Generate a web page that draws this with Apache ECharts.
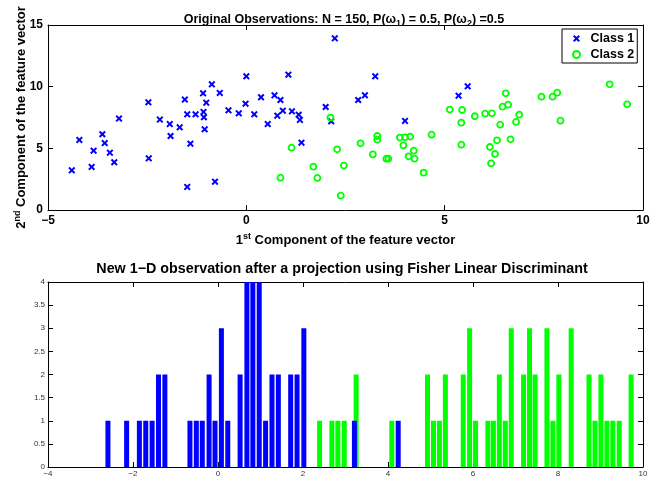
<!DOCTYPE html>
<html><head><meta charset="utf-8">
<script src="https://cdn.jsdelivr.net/npm/echarts@6/dist/echarts.min.js"></script>
<style>html,body{margin:0;padding:0;background:#fff}#c{width:652px;height:487px}</style>
</head><body><div id="c"></div>
<script>
// ---- Scatter data ----
const class1X = [-4.40,-4.21,-3.90,-3.85,-3.63,-3.57,-3.44,-3.33,-3.21,-2.47,-2.46,-2.18,-1.93,-1.91,-1.68,-1.55,-1.49,-1.49,-1.41,-1.28,-1.09,-1.08,-1.07,-1.01,-1.05,-0.87,-0.67,-0.79,-0.45,-0.19,-0.02,0.00,0.20,0.37,0.54,0.71,0.78,0.86,0.92,1.06,1.15,1.32,1.35,1.39,2.00,2.14,2.23,2.82,2.99,3.25,4.00,5.35,5.58];
const class1Y = [3.22,5.68,3.49,4.81,6.14,5.43,4.65,3.87,7.41,8.73,4.19,7.33,6.97,6.00,6.70,8.95,7.76,1.87,5.38,7.76,9.46,7.95,7.52,8.70,6.54,10.19,9.49,2.30,8.08,7.84,8.62,10.84,7.76,9.14,6.97,9.30,7.65,8.92,8.05,10.97,8.00,7.73,7.30,5.46,8.35,7.19,13.92,8.92,9.30,10.84,7.22,9.27,10.03];
const class2X = [1.14,0.86,1.69,1.79,2.12,2.29,2.46,2.38,2.88,3.19,3.30,3.30,3.53,3.58,3.87,4.00,4.13,3.96,4.09,4.22,4.24,4.47,4.67,5.13,5.44,5.42,5.42,5.76,6.02,6.19,6.14,6.27,6.17,6.32,6.40,6.46,6.54,6.60,6.66,6.80,6.88,7.44,7.72,7.84,7.92,9.16,9.60];
const class2Y = [5.05,2.62,3.51,2.60,7.49,4.92,3.60,1.16,5.41,4.51,6.00,5.70,4.16,4.16,5.87,5.89,5.95,5.24,4.35,4.81,4.16,3.03,6.11,8.14,8.11,7.08,5.30,7.60,7.81,7.84,5.11,4.54,3.78,5.65,6.92,8.38,9.46,8.54,5.73,7.14,7.73,9.19,9.19,9.51,7.24,10.19,8.57];

// ---- Histogram data (bin centres and counts) ----
const blueBinX = [-2.59,-2.15,-1.85,-1.70,-1.55,-1.40,-1.25,-0.66,-0.51,-0.37,-0.21,-0.07,0.08,0.23,0.52,0.68,0.82,0.97,1.12,1.27,1.42,1.71,1.86,2.02,3.21,4.24];
const blueCounts = [1,1,1,1,1,2,2,1,1,1,2,1,3,1,2,4,4,4,1,2,2,2,2,3,1,1];
const greenBinX = [2.39,2.68,2.82,2.97,3.25,4.09,4.93,5.07,5.21,5.35,5.77,5.92,6.06,6.35,6.48,6.62,6.76,6.90,7.19,7.33,7.46,7.74,7.88,8.02,8.31,8.73,8.87,9.01,9.15,9.29,9.44,9.72];
const greenCounts = [1,1,1,1,2,1,2,1,1,2,2,3,1,1,1,2,1,3,2,3,2,3,1,2,3,2,1,2,1,1,1,2];

// ---- Axis ticks ----
const scatterXTicks = {min:-5, max:10, interval:5};
const scatterYTicks = {min:0, max:15, interval:5};
const histXTicks = {min:-4, max:10, interval:2};
const histYTicks = {min:0, max:4, interval:0.5};

const F = '"Liberation Sans", Arial, Helvetica, sans-serif';
const minus = v => String(v).replace('-', '\u2212');
const zip = (a, b) => a.map((v, i) => [v, b[i]]);

const line = {show:true, onZero:false, lineStyle:{color:'#000', width:1}};
const tickIn = len => ({show:true, inside:true, length:len, lineStyle:{color:'#000', width:1}});

function axisPair(kind, grid, ticks, labelStyle, extraMain) {
  const main = Object.assign({
    type:'value', gridIndex:grid, min:ticks.min, max:ticks.max, interval:ticks.interval,
    position: kind === 'x' ? 'bottom' : 'left',
    axisLine: line, axisTick: tickIn(5), splitLine:{show:false},
    axisLabel: Object.assign({formatter: minus}, labelStyle)
  }, extraMain || {});
  const sec = {
    type:'value', gridIndex:grid, min:ticks.min, max:ticks.max, interval:ticks.interval,
    position: kind === 'x' ? 'top' : 'right',
    axisLine: line, axisTick: tickIn(5), splitLine:{show:false}, axisLabel:{show:false}
  };
  return [main, sec];
}

const bigLabel = {color:'#000', fontWeight:'bold', fontSize:12, fontFamily:F, margin:5};
const smallLabel = {color:'#333', fontSize:8, fontFamily:F, margin:3};

const nameStyle = {
  color:'#000', fontWeight:'bold', fontSize:13, fontFamily:F, lineHeight:16,
  rich:{sup:{fontSize:9, fontWeight:'bold', verticalAlign:'top', lineHeight:9, color:'#000'}}
};

const xs = axisPair('x', 0, scatterXTicks, bigLabel, {
  name:'1{sup|st} Component of the feature vector', nameLocation:'middle', nameGap:22,
  nameMoveOverlap:false, nameTextStyle:nameStyle
});
const ys = axisPair('y', 0, scatterYTicks, bigLabel, {
  name:'2{sup|nd} Component of the feature vector', nameLocation:'middle', nameGap:19,
  nameMoveOverlap:false, nameTextStyle:nameStyle
});
const xh = axisPair('x', 1, histXTicks, smallLabel);
const yh = axisPair('y', 1, histYTicks, smallLabel);

const crossPath = 'path://M0,2 L2,0 L5,3 L8,0 L10,2 L7,5 L10,8 L8,10 L5,7 L2,10 L0,8 L3,5 Z';

const chart = echarts.init(document.getElementById('c'));
chart.setOption({
  animation:false,
  backgroundColor:'#fff',
  textStyle:{fontFamily:F},
  title:[
    {text:'Original Observations: N = 150, P(\u03c9{s|1}) = 0.5, P(\u03c9{s|2}) =0.5',
     left:344, top:20, padding:0, textAlign:'center', textVerticalAlign:'middle',
     textStyle:{fontSize:12.5, fontWeight:'bold', color:'#000', fontFamily:F, lineHeight:17,
       rich:{s:{fontSize:9, fontWeight:'bold', verticalAlign:'bottom', lineHeight:9, color:'#000'}}}},
    {text:'New 1\u2212D observation after a projection using Fisher Linear Discriminant',
     left:342, top:269, padding:0, textAlign:'center', textVerticalAlign:'middle',
     textStyle:{fontSize:14.3, fontWeight:'bold', color:'#000', fontFamily:F}}
  ],
  grid:[
    {left:48, top:25, width:595, height:185, outerBoundsMode:'none', containLabel:false},
    {left:48, top:282, width:595, height:185, outerBoundsMode:'none', containLabel:false}
  ],
  legend:{
    orient:'vertical', left:562, top:29, padding:[3,3,2,10], itemGap:3,
    itemWidth:12, itemHeight:7, borderColor:'#000', borderWidth:1, borderRadius:0,
    backgroundColor:'#fff',
    textStyle:{fontWeight:'bold', fontSize:12.5, color:'#000', fontFamily:F, padding:[0,0,0,3]},
    data:['Class 1','Class 2']
  },
  xAxis:[xs[0], xs[1], xh[0], xh[1]],
  yAxis:[ys[0], ys[1], yh[0], yh[1]],
  series:[
    {name:'Class 1', type:'scatter', xAxisIndex:0, yAxisIndex:0, data:zip(class1X, class1Y),
     symbol:crossPath, symbolSize:7, itemStyle:{color:'#0000ff', opacity:1}},
    {name:'Class 2', type:'scatter', xAxisIndex:0, yAxisIndex:0, data:zip(class2X, class2Y),
     symbol:'circle', symbolSize:6, itemStyle:{color:'rgba(0,0,0,0)', borderColor:'#00ff00', borderWidth:1.8, opacity:1}},
    {name:'hist2', type:'bar', xAxisIndex:2, yAxisIndex:2, data:zip(greenBinX, greenCounts),
     barWidth:5, barGap:'-100%', itemStyle:{color:'#00ff00'}},
    {name:'hist1', type:'bar', xAxisIndex:2, yAxisIndex:2, data:zip(blueBinX, blueCounts),
     barWidth:5, barGap:'-100%', itemStyle:{color:'#0000ff'}}
  ]
});
</script></body></html>
